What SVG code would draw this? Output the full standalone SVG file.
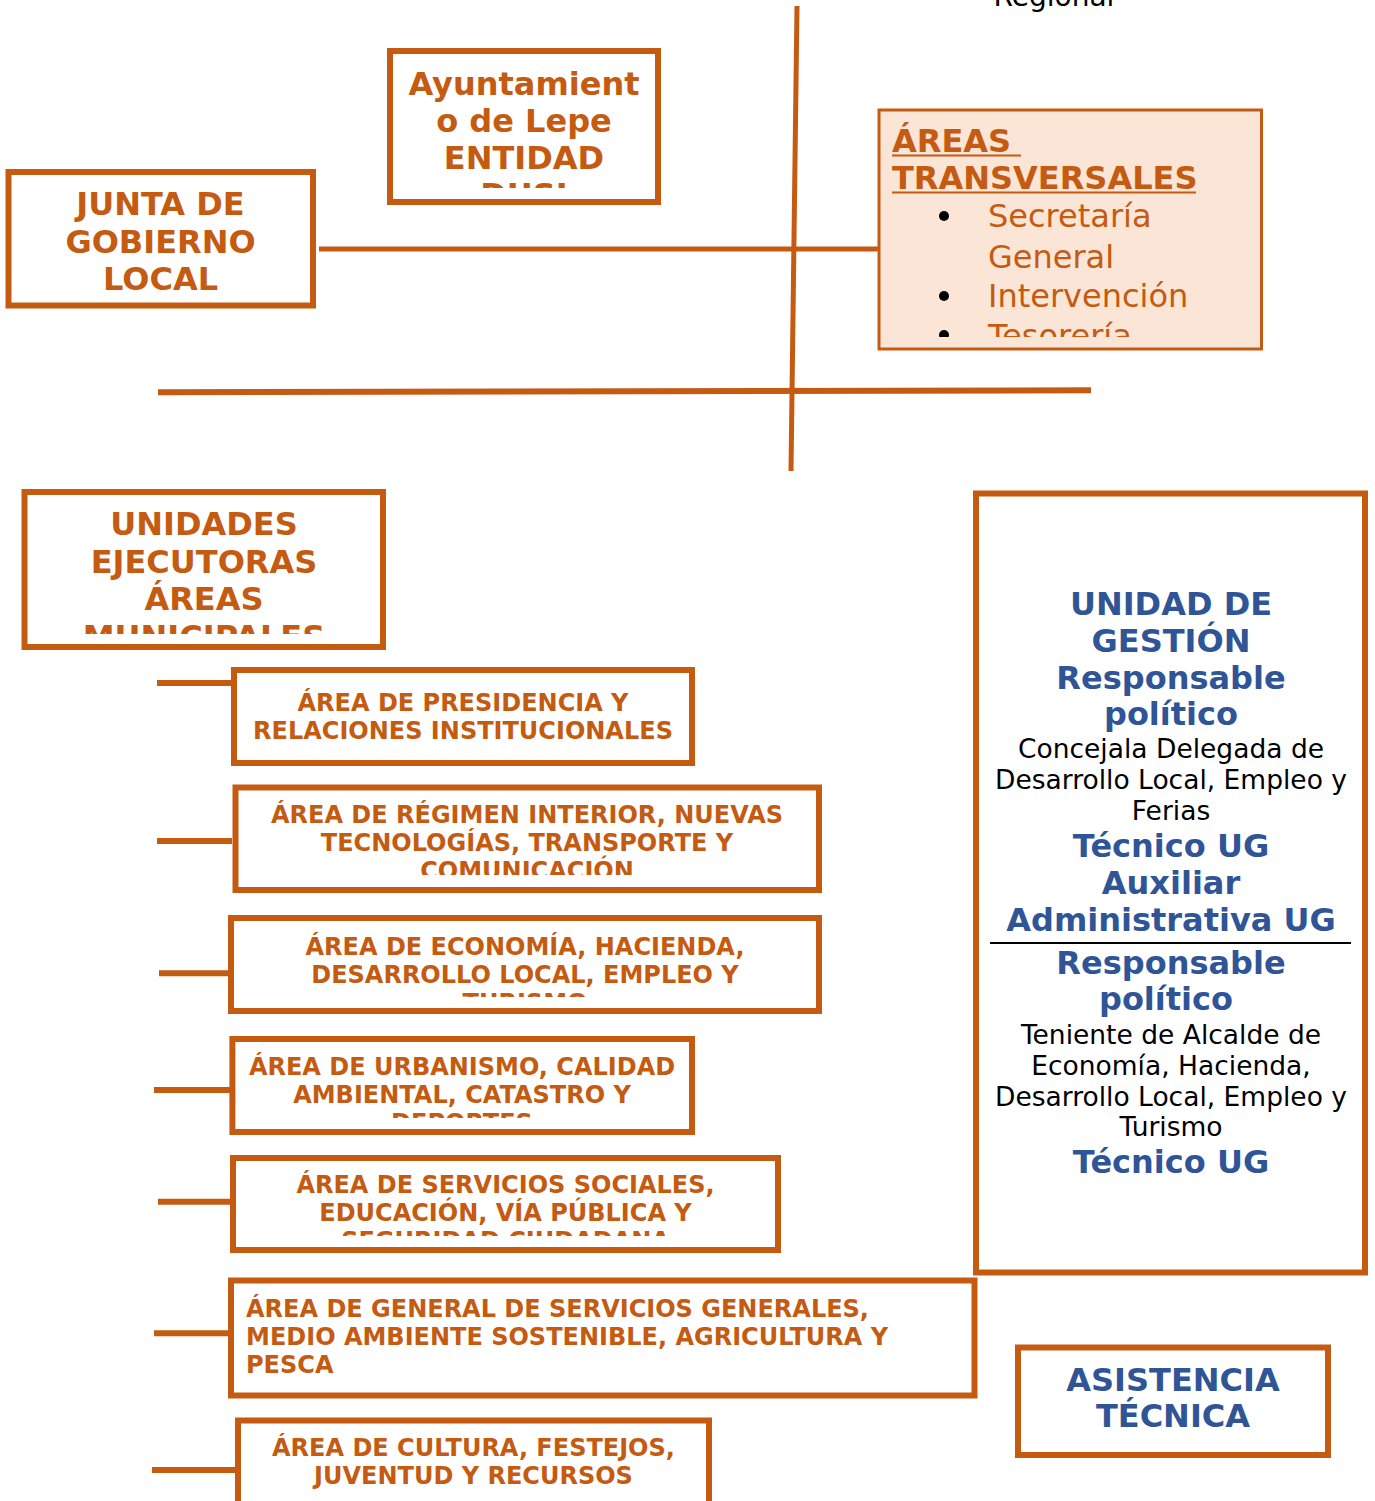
<svg xmlns="http://www.w3.org/2000/svg" width="1375" height="1501" viewBox="0 0 1375 1501">
<style>
.box{fill:#fff;stroke:#C55A11;stroke-width:6}
.tbox{fill:#FBE5D6;stroke:#C55A11;stroke-width:3}
.con{stroke:#C55A11;fill:none}
.f{font-family:'DejaVu Sans','Liberation Sans',sans-serif}
.ob{font-weight:bold;fill:#C55A11}
.bb{font-weight:bold;fill:#2F5597;font-size:32px}
.k{fill:#000;font-size:26.5px}
.t32{font-size:32px}
.t24{font-size:24px}
.or{fill:#C55A11;font-size:32px}
.c{text-anchor:middle}
</style>
<defs>
<clipPath id="cAy"><rect x="393" y="54" width="262" height="134"/></clipPath>
<clipPath id="cUn"><rect x="28" y="495" width="352" height="139"/></clipPath>
<clipPath id="cTr"><rect x="881" y="112" width="379" height="225"/></clipPath>
<clipPath id="c2"><rect x="239" y="791" width="577" height="84"/></clipPath>
<clipPath id="c3"><rect x="234" y="921" width="582" height="76"/></clipPath>
<clipPath id="c4"><rect x="235" y="1042" width="454" height="76"/></clipPath>
<clipPath id="c5"><rect x="236" y="1161" width="539" height="75"/></clipPath>
</defs>

<text class="f" x="1054" y="6" font-size="28" fill="#000" text-anchor="middle">Regional</text>

<g id="connectors">
<line class="con" x1="797" y1="6" x2="791" y2="471" stroke-width="5"/>
<line class="con" x1="319" y1="249" x2="878" y2="249" stroke-width="5"/>
<line class="con" x1="158" y1="392.3" x2="1091" y2="390.3" stroke-width="6"/>
<line class="con" x1="157" y1="683" x2="232" y2="683" stroke-width="6"/>
<line class="con" x1="157" y1="841" x2="232" y2="841" stroke-width="6"/>
<line class="con" x1="159" y1="973.3" x2="229" y2="973.3" stroke-width="6"/>
<line class="con" x1="154" y1="1090" x2="230" y2="1090" stroke-width="6"/>
<line class="con" x1="158" y1="1201.7" x2="231" y2="1201.7" stroke-width="6"/>
<line class="con" x1="154" y1="1333.3" x2="229" y2="1333.3" stroke-width="6"/>
<line class="con" x1="152" y1="1470" x2="235" y2="1470" stroke-width="6"/>
</g>

<g id="ayuntamiento">
<rect class="box" x="390" y="51" width="268" height="151"/>
<g clip-path="url(#cAy)" class="f ob t32 c">
<text x="524" y="95">Ayuntamient</text>
<text x="524" y="132">o de Lepe</text>
<text x="524" y="169">ENTIDAD</text>
<text x="524" y="206">DUSI</text>
</g>
</g>

<g id="junta">
<rect class="box" x="8.5" y="172" width="304.5" height="133.5"/>
<g class="f ob t32 c">
<text x="160.5" y="215">JUNTA DE</text>
<text x="160.5" y="253">GOBIERNO</text>
<text x="160.5" y="290">LOCAL</text>
</g>
</g>

<g id="transversales">
<rect class="tbox" x="879" y="110" width="382.5" height="239"/>
<g clip-path="url(#cTr)">
<g class="f ob t32">
<text x="892" y="152">ÁREAS</text>
<text x="892" y="189">TRANSVERSALES</text>
</g>
<line x1="892" y1="155.5" x2="1021" y2="155.5" stroke="#C55A11" stroke-width="2"/>
<line x1="892" y1="192.5" x2="1196" y2="192.5" stroke="#C55A11" stroke-width="2"/>
<circle cx="944" cy="216" r="5" fill="#000"/>
<circle cx="944" cy="296" r="5" fill="#000"/>
<circle cx="944" cy="335" r="5" fill="#000"/>
<g class="f or">
<text x="988" y="227">Secretaría</text>
<text x="988" y="268">General</text>
<text x="988" y="307">Intervención</text>
<text x="988" y="347">Tesorería</text>
</g>
</g>
</g>

<g id="unidades">
<rect class="box" x="24.5" y="492" width="358.5" height="155"/>
<g clip-path="url(#cUn)" class="f ob t32 c">
<text x="204" y="535">UNIDADES</text>
<text x="204" y="573">EJECUTORAS</text>
<text x="204" y="610">ÁREAS</text>
<text x="204" y="647.5">MUNICIPALES</text>
</g>
</g>

<g id="area1">
<rect class="box" x="234" y="670" width="458" height="93"/>
<g class="f ob t24 c">
<text x="463" y="711">ÁREA DE PRESIDENCIA Y</text>
<text x="463" y="739">RELACIONES INSTITUCIONALES</text>
</g>
</g>

<g id="area2">
<rect class="box" x="235.5" y="787.5" width="583.5" height="102.5"/>
<g clip-path="url(#c2)" class="f ob t24 c">
<text x="527" y="823">ÁREA DE RÉGIMEN INTERIOR, NUEVAS</text>
<text x="527" y="851">TECNOLOGÍAS, TRANSPORTE Y</text>
<text x="527" y="879">COMUNICACIÓN</text>
</g>
</g>

<g id="area3">
<rect class="box" x="231" y="918" width="588" height="93"/>
<g clip-path="url(#c3)" class="f ob t24 c">
<text x="525" y="955">ÁREA DE ECONOMÍA, HACIENDA,</text>
<text x="525" y="983">DESARROLLO LOCAL, EMPLEO Y</text>
<text x="525" y="1011">TURISMO</text>
</g>
</g>

<g id="area4">
<rect class="box" x="232.4" y="1039" width="459.6" height="93"/>
<g clip-path="url(#c4)" class="f ob t24 c">
<text x="462" y="1075">ÁREA DE URBANISMO, CALIDAD</text>
<text x="462" y="1103">AMBIENTAL, CATASTRO Y</text>
<text x="462" y="1131">DEPORTES</text>
</g>
</g>

<g id="area5">
<rect class="box" x="233" y="1158" width="545" height="92"/>
<g clip-path="url(#c5)" class="f ob t24 c">
<text x="505.5" y="1193">ÁREA DE SERVICIOS SOCIALES,</text>
<text x="505.5" y="1221">EDUCACIÓN, VÍA PÚBLICA Y</text>
<text x="505.5" y="1249">SEGURIDAD CIUDADANA</text>
</g>
</g>

<g id="area6">
<rect class="box" x="231" y="1280.5" width="743.5" height="115"/>
<g class="f ob t24">
<text x="246" y="1317">ÁREA DE GENERAL DE SERVICIOS GENERALES,</text>
<text x="246" y="1345">MEDIO AMBIENTE SOSTENIBLE, AGRICULTURA Y</text>
<text x="246" y="1373">PESCA</text>
</g>
</g>

<g id="area7">
<rect class="box" x="238" y="1420.5" width="471" height="110"/>
<g class="f ob t24 c">
<text x="473.5" y="1456">ÁREA DE CULTURA, FESTEJOS,</text>
<text x="473.5" y="1484">JUVENTUD Y RECURSOS</text>
</g>
</g>

<g id="unidad-gestion">
<rect class="box" x="976" y="493.5" width="389" height="779"/>
<g class="f c">
<text class="bb" x="1171" y="615">UNIDAD DE</text>
<text class="bb" x="1171" y="652">GESTIÓN</text>
<text class="bb" x="1171" y="689">Responsable</text>
<text class="bb" x="1171" y="725">político</text>
<text class="k" x="1171" y="758">Concejala Delegada de</text>
<text class="k" x="1171" y="789">Desarrollo Local, Empleo y</text>
<text class="k" x="1171" y="820">Ferias</text>
<text class="bb" x="1171" y="857">Técnico UG</text>
<text class="bb" x="1171" y="894">Auxiliar</text>
<text class="bb" x="1171" y="931">Administrativa UG</text>
<text class="bb" x="1171" y="974">Responsable</text>
<text class="bb" x="1166" y="1010">político</text>
<text class="k" x="1171" y="1044">Teniente de Alcalde de</text>
<text class="k" x="1171" y="1075">Economía, Hacienda,</text>
<text class="k" x="1171" y="1106">Desarrollo Local, Empleo y</text>
<text class="k" x="1171" y="1136">Turismo</text>
<text class="bb" x="1171" y="1173">Técnico UG</text>
</g>
<line x1="990" y1="943" x2="1351" y2="943" stroke="#000" stroke-width="2"/>
</g>

<g id="asistencia">
<rect class="box" x="1018" y="1347.5" width="310" height="107.5"/>
<g class="f c">
<text class="bb" x="1173" y="1391">ASISTENCIA</text>
<text class="bb" x="1173" y="1427">TÉCNICA</text>
</g>
</g>
</svg>
